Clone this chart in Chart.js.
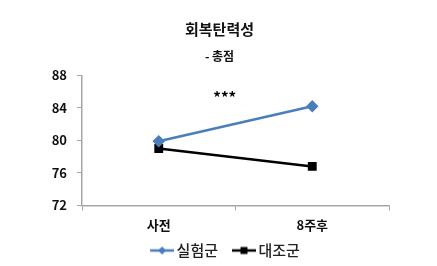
<!DOCTYPE html>
<html>
<head>
<meta charset="utf-8">
<script src="https://cdn.jsdelivr.net/npm/chart.js@4/dist/chart.umd.min.js"></script>
<style>
  html, body { margin: 0; padding: 0; background: #ffffff; }
  #wrap { width: 437px; height: 266px; }
</style>
</head>
<body>
<div id="wrap"><canvas id="c" width="437" height="266"></canvas></div>
<script>
const categories = ['사전', '8주후'];
const seriesNames = ['실험군', '대조군'];
const experimentalValues = [79.9, 84.2];
const controlValues = [79.0, 76.8];
const yTickValues = [72, 76, 80, 84, 88];
const titleText = '회복탄력성';
const subtitleText = '- 총점';
const annotationText = '***';
const annotationX = 0.43;
const annotationY = 85.3;

const FONT = "'Noto Sans CJK KR', 'Noto Sans', sans-serif";
const BLUE = '#4a7ebb';
const BLACK = '#000000';
const AXIS_GREY = '#a6a6a6';

function legendIcon(color, style) {
  const cv = document.createElement('canvas');
  cv.width = 40; cv.height = 10;
  const g = cv.getContext('2d');
  g.strokeStyle = color; g.lineWidth = 2.5;
  g.beginPath(); g.moveTo(16, 5); g.lineTo(40, 5); g.stroke();
  g.fillStyle = color;
  if (style === 'diamond') {
    g.beginPath(); g.moveTo(28, 1); g.lineTo(32, 5); g.lineTo(28, 9); g.lineTo(24, 5); g.closePath(); g.fill();
  } else {
    g.fillRect(24.5, 1.5, 7, 7);
  }
  return cv;
}
const icons = [legendIcon(BLUE, 'diamond'), legendIcon(BLACK, 'square')];

const annotationPlugin = {
  id: 'starAnnotation',
  afterDatasetsDraw(chart) {
    const { ctx, scales } = chart;
    const x = scales.x.getPixelForValue(annotationX);
    const y = scales.y.getPixelForValue(annotationY);
    ctx.save();
    ctx.font = 'bold 15px ' + FONT;
    ctx.fillStyle = '#000';
    ctx.textAlign = 'center';
    ctx.textBaseline = 'middle';
    ctx.fillText(annotationText, x, y);
    ctx.restore();
  }
};

new Chart(document.getElementById('c'), {
  type: 'line',
  data: {
    labels: categories,
    datasets: [
      {
        label: seriesNames[0],
        data: experimentalValues,
        borderColor: BLUE,
        backgroundColor: BLUE,
        borderWidth: 2.5,
        pointStyle: 'rectRot',
        pointRadius: 4.5,
        pointHoverRadius: 4.5,
        tension: 0
      },
      {
        label: seriesNames[1],
        data: controlValues,
        borderColor: BLACK,
        backgroundColor: BLACK,
        borderWidth: 2.5,
        pointStyle: 'rect',
        pointRadius: 4.5,
        pointHoverRadius: 4.5,
        tension: 0
      }
    ]
  },
  options: {
    responsive: false,
    animation: false,
    devicePixelRatio: 1,
    layout: { padding: { left: 50, right: 48, top: 0, bottom: -2 } },
    plugins: {
      title: {
        display: true,
        text: titleText,
        color: '#111',
        font: { family: FONT, size: 15, weight: 'bold' },
        padding: { top: 20, bottom: 11 }
      },
      subtitle: {
        display: true,
        text: subtitleText,
        color: '#111',
        font: { family: FONT, size: 12, weight: 'bold' },
        padding: { top: 0, bottom: 12 }
      },
      legend: {
        display: true,
        position: 'bottom',
        labels: {
          usePointStyle: true,
          pointStyleWidth: 30,
          boxHeight: 10,
          color: '#222',
          font: { family: FONT, size: 15, weight: '500' },
          padding: 3,
          generateLabels(chart) {
            return chart.data.datasets.map((ds, i) => ({
              text: ds.label,
              fillStyle: ds.backgroundColor,
              strokeStyle: ds.borderColor,
              lineWidth: 0,
              pointStyle: icons[i],
              fontColor: '#222',
              hidden: false,
              datasetIndex: i
            }));
          }
        }
      },
      tooltip: { enabled: false }
    },
    scales: {
      x: {
        offset: true,
        grid: {
          display: true,
          offset: true,
          drawOnChartArea: false,
          drawTicks: true,
          tickLength: 5,
          color: AXIS_GREY
        },
        border: { display: true, color: AXIS_GREY, width: 1.5 },
        ticks: {
          color: '#111',
          font: { family: FONT, size: 13, weight: 'bold' },
          padding: 7
        }
      },
      y: {
        min: 72,
        max: 88,
        afterFit(scale) { scale.width = 32; },
        afterBuildTicks(scale) { scale.ticks = yTickValues.map(v => ({ value: v })); },
        grid: {
          display: true,
          drawOnChartArea: false,
          drawTicks: true,
          tickLength: 5,
          color: AXIS_GREY
        },
        border: { display: true, color: AXIS_GREY, width: 1.5 },
        ticks: {
          color: '#111',
          font: { family: FONT, size: 13, weight: 'bold' },
          padding: 10
        }
      }
    }
  },
  plugins: [annotationPlugin]
});
</script>
</body>
</html>
